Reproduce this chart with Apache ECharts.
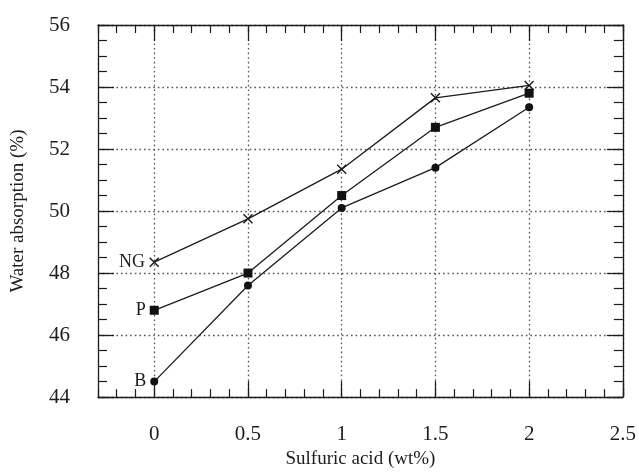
<!DOCTYPE html>
<html>
<head>
<meta charset="utf-8">
<script src="https://cdn.jsdelivr.net/npm/echarts@6/dist/echarts.min.js"></script>
<style>
  html, body { margin: 0; padding: 0; background: #fff; }
  #chart { width: 639px; height: 474px; }
</style>
</head>
<body>
<div id="chart"></div>
<script>
// Sulfuric acid content (wt%) on x, water absorption (%) on y
const acid = [0, 0.5, 1, 1.5, 2];
const seriesNames = ['NG', 'P', 'B'];
const ngValues = [48.35, 49.75, 51.35, 53.65, 54.05];
const pValues  = [46.8, 48.0, 50.5, 52.7, 53.8];
const bValues  = [44.5, 47.6, 50.1, 51.4, 53.35];
const xTickValues = [0, 0.5, 1, 1.5, 2, 2.5];
const xRange = [-0.3, 2.5];
const yRange = [44, 56];

const ink = '#1c1c1c';
const serif = '"Liberation Serif", "DejaVu Serif", serif';
const gridDots = { color: '#555', type: [1.6, 3], width: 1.3 };

function pairs(values) {
  return acid.map((a, i) => [a, values[i]]);
}

// minor / major tick axes, mirrored on the opposite side of the frame
function xAxisDef(position, major) {
  const ax = {
    type: 'value', position: position, offset: 0,
    min: xRange[0], max: xRange[1],
    axisLine: { show: !major, onZero: false, lineStyle: { color: ink, width: 1.3 } },
    axisTick: { show: true, inside: true, length: major ? 16 : 8,
                lineStyle: { color: ink, width: 1.2 } },
    axisLabel: { show: false },
    splitLine: { show: false }
  };
  if (major) {
    ax.axisTick.customValues = xTickValues;
  } else {
    ax.interval = 0.1;
  }
  return ax;
}

function yAxisDef(position, major) {
  return {
    type: 'value', position: position, offset: 0,
    min: yRange[0], max: yRange[1],
    interval: major ? 2 : 0.5,
    axisLine: { show: !major, onZero: false, lineStyle: { color: ink, width: 1.3 } },
    axisTick: { show: true, inside: true, length: major ? 16 : 9,
                lineStyle: { color: ink, width: 1.2 } },
    axisLabel: { show: false },
    splitLine: { show: false }
  };
}

const xBottomMajor = xAxisDef('bottom', true);
xBottomMajor.axisLabel = {
  show: true, customValues: xTickValues, margin: 27,
  color: ink, fontFamily: serif, fontSize: 21,
  formatter: v => String(Math.round(v * 10) / 10)
};
xBottomMajor.splitLine = { show: true, lineStyle: gridDots };
xBottomMajor.name = 'Sulfuric acid (wt%)';
xBottomMajor.nameLocation = 'middle';
xBottomMajor.nameGap = 46;
xBottomMajor.nameTextStyle = { color: ink, fontFamily: serif, fontSize: 19 };

const yLeftMajor = yAxisDef('left', true);
yLeftMajor.axisLabel = { show: true, margin: 28, color: ink, fontFamily: serif, fontSize: 21 };
yLeftMajor.splitLine = { show: true, lineStyle: gridDots };
yLeftMajor.name = 'Water absorption (%)';
yLeftMajor.nameLocation = 'middle';
yLeftMajor.nameGap = 70;
yLeftMajor.nameTextStyle = { color: ink, fontFamily: serif, fontSize: 19 };

const symbols = [
  { symbol: 'path://M0,0L10,10M10,0L0,10', size: 9,
    style: { color: 'transparent', borderColor: ink, borderWidth: 1.4 } },
  { symbol: 'rect', size: 9, style: { color: '#111' } },
  { symbol: 'circle', size: 8, style: { color: '#111' } }
];

const allValues = [ngValues, pValues, bValues];

const series = seriesNames.map((name, k) => ({
  name: name,
  type: 'line',
  xAxisIndex: 0,
  yAxisIndex: 0,
  data: pairs(allValues[k]),
  symbol: symbols[k].symbol,
  symbolSize: symbols[k].size,
  showAllSymbol: true,
  itemStyle: symbols[k].style,
  lineStyle: { color: ink, width: 1.3 },
  label: {
    show: true, position: 'left', distance: 4,
    color: ink, fontFamily: serif, fontSize: 18,
    formatter: p => (p.dataIndex === 0 ? p.seriesName : '')
  },
  emphasis: { disabled: true },
  animation: false,
  z: 5
}));

const chart = echarts.init(document.getElementById('chart'), null, { renderer: 'canvas' });
chart.setOption({
  backgroundColor: '#ffffff',
  animation: false,
  grid: { left: 98, right: 15, top: 25, bottom: 75, containLabel: false },
  xAxis: [
    xAxisDef('bottom', false),
    xBottomMajor,
    xAxisDef('top', false),
    xAxisDef('top', true)
  ],
  yAxis: [
    yAxisDef('left', false),
    yLeftMajor,
    yAxisDef('right', false),
    yAxisDef('right', true)
  ],
  series: series
});
</script>
</body>
</html>
